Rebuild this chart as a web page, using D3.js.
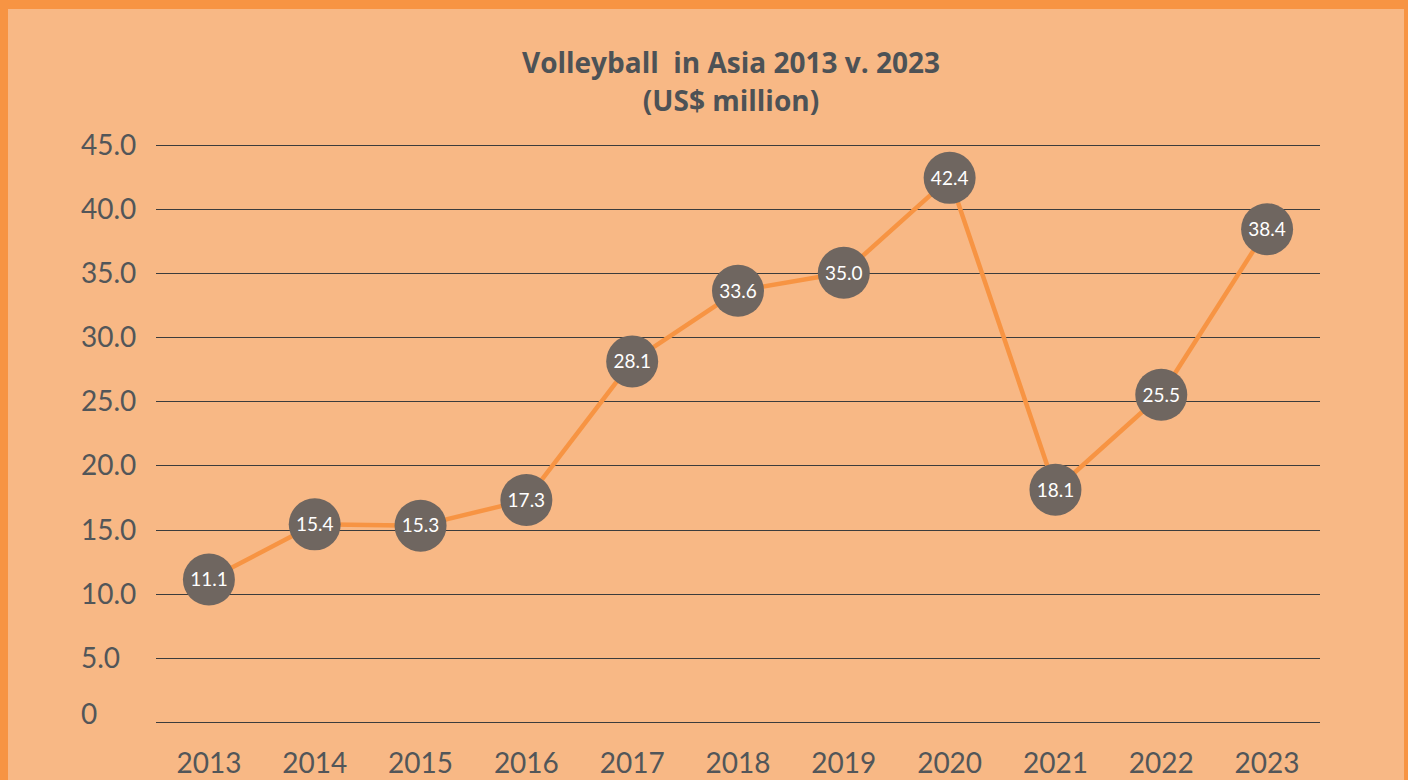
<!DOCTYPE html>
<html>
<script src="https://d3js.org/d3.v7.min.js"></script>

<head>
    <style>
        body {
            margin: 0;
            background-color: #f79443;
        }

        svg {
            display: block;
        }
    </style>
</head>

<body>
</body>
<script>
    const width = 1408,
        height = 780;

    const years = ["2013", "2014", "2015", "2016", "2017", "2018", "2019", "2020", "2021", "2022", "2023"];
    const values = [11.1, 15.4, 15.3, 17.3, 28.1, 33.6, 35.0, 42.4, 18.1, 25.5, 38.4];
    const yTicks = [0, 5, 10, 15, 20, 25, 30, 35, 40, 45];

    const font = "Lato, 'Open Sans', sans-serif";
    const textColor = "#525659";
    const lineColor = "#f79443";
    const dotColor = "#6f6660";

    const svg = d3.select("body").append("svg").attr("width", width).attr("height", height);

    // orange frame + peach panel
    svg.append("rect")
        .attr("x", 0).attr("y", 0)
        .attr("width", width).attr("height", height)
        .attr("fill", "#f79443");
    svg.append("rect")
        .attr("x", 8).attr("y", 9)
        .attr("width", 1396).attr("height", height)
        .attr("fill", "#f8b885");

    const x = d3.scaleBand()
        .domain(years)
        .range([156, 1320]);

    const y = d3.scaleLinear()
        .domain([0, 45])
        .range([722, 144.5]);

    // title
    const title = svg.append("text")
        .attr("text-anchor", "middle")
        .attr("font-family", "'Open Sans', Lato, sans-serif")
        .attr("font-weight", "bold")
        .attr("font-size", "28px")
        .style("white-space", "pre")
        .attr("fill", "#4d5256");
    title.append("tspan").attr("x", 731).attr("y", 73).text("Volleyball  in Asia 2013 v. 2023");
    title.append("tspan").attr("x", 731).attr("y", 111).text("(US$ million)");

    // gridlines
    svg.append("g")
        .selectAll("line")
        .data(yTicks)
        .enter()
        .append("line")
        .attr("x1", x.range()[0])
        .attr("x2", x.range()[1])
        .attr("y1", d => Math.round(y(d)) + 0.5)
        .attr("y2", d => Math.round(y(d)) + 0.5)
        .attr("stroke", "#3c3c3c")
        .attr("stroke-width", 1);

    // y labels
    svg.append("g")
        .selectAll("text")
        .data(yTicks)
        .enter()
        .append("text")
        .attr("x", 81)
        .attr("y", d => d === 0 ? y(d) - 8 : y(d))
        .attr("dy", "0.36em")
        .attr("font-family", font)
        .attr("font-size", "28px")
        .attr("fill", textColor)
        .text(d => d === 0 ? "0" : d3.format(".1f")(d));

    // x labels
    svg.append("g")
        .selectAll("text")
        .data(years)
        .enter()
        .append("text")
        .attr("x", d => x(d) + x.bandwidth() / 2)
        .attr("y", 773)
        .attr("text-anchor", "middle")
        .attr("font-family", font)
        .attr("font-size", "28px")
        .attr("fill", textColor)
        .text(d => d);

    const points = years.map((yr, i) => ({ year: yr, value: values[i] }));
    const cx = d => x(d.year) + x.bandwidth() / 2;

    const line = d3.line()
        .x(cx)
        .y(d => y(d.value));

    svg.append("path")
        .datum(points)
        .attr("fill", "none")
        .attr("stroke", lineColor)
        .attr("stroke-width", 4.5)
        .attr("stroke-linejoin", "round")
        .attr("d", line);

    const dots = svg.append("g")
        .selectAll("g")
        .data(points)
        .enter()
        .append("g")
        .attr("transform", d => `translate(${cx(d)},${y(d.value)})`);

    dots.append("circle")
        .attr("r", 26)
        .attr("fill", dotColor);

    dots.append("text")
        .attr("text-anchor", "middle")
        .attr("dy", "0.36em")
        .attr("font-family", font)
        .attr("font-size", "19px")
        .attr("fill", "white")
        .text(d => d3.format(".1f")(d.value));
</script>

</html>
